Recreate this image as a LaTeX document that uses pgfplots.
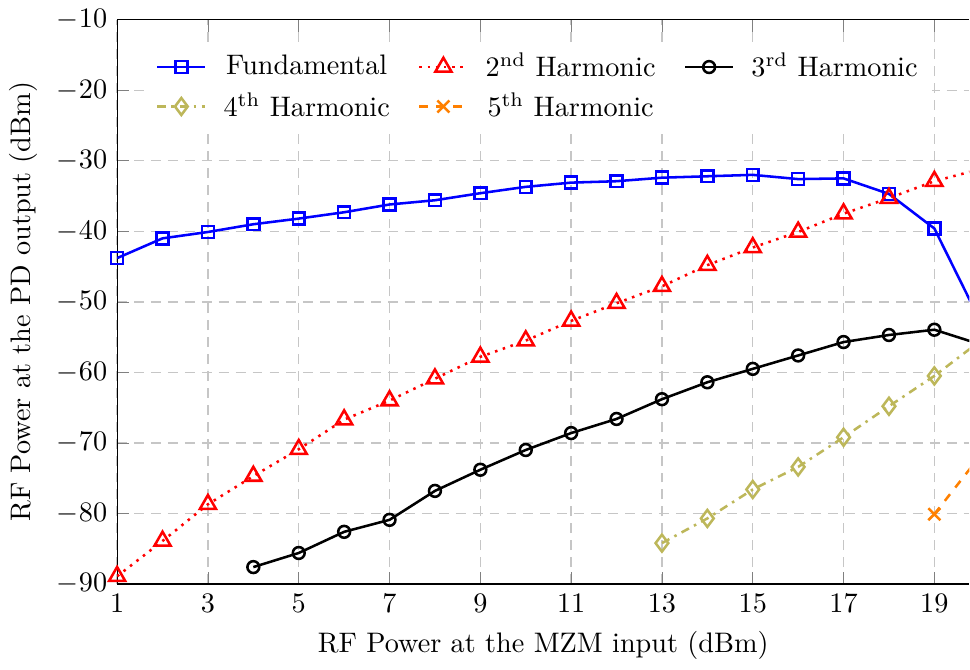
\documentclass[border=0pt]{standalone}
\usepackage{pgfplots}
\pgfplotsset{compat=1.18}
\definecolor{khaki}{RGB}{189,183,90}
\definecolor{myorange}{RGB}{255,128,0}
\begin{document}
\begin{tikzpicture}
\begin{axis}[
  scale only axis,
  width=302pt, height=200pt,
  xmin=1, xmax=19.77,
  ymin=-90, ymax=-10,
  xtick={1,3,...,19},
  ytick={-90,-80,...,-10},
  axis x line=box,
  axis y line*=left,
  grid=major,
  grid style={dash pattern=on 3.5pt off 2.5pt, gray!45, line width=0.5pt},
  major tick style={gray},
  xlabel={RF Power at the MZM input (dBm)},
  ylabel={RF Power at the PD output (dBm)},
  legend columns=3,
  legend style={draw=none, fill=white, at={(0.035,0.962)}, anchor=north west,
    /tikz/every odd column/.append style={column sep=4pt},
    /tikz/every even column/.append style={column sep=8pt},
    row sep=0pt},
  every axis plot/.append style={line width=0.9pt, mark size=2.1pt},
]
\addplot[blue, mark=square, mark options={solid, fill=white}] coordinates {
(1,-43.8) (2,-41.0) (3,-40.1) (4,-39.0) (5,-38.2) (6,-37.3) (7,-36.2) (8,-35.6)
(9,-34.6) (10,-33.7) (11,-33.1) (12,-32.9) (13,-32.4) (14,-32.2) (15,-32.0)
(16,-32.6) (17,-32.5) (18,-34.7) (19,-39.6) (20,-52.6)};
\addlegendentry{Fundamental}
\addplot[red, dotted, mark=triangle, mark size=3.3pt, mark options={solid, fill=white}] coordinates {
(1,-88.9) (2,-83.9) (3,-78.7) (4,-74.7) (5,-70.9) (6,-66.7) (7,-64.0) (8,-60.9)
(9,-57.8) (10,-55.5) (11,-52.7) (12,-50.2) (13,-47.8) (14,-44.8) (15,-42.3)
(16,-40.1) (17,-37.5) (18,-35.3) (19,-32.9) (20,-31.2)};
\addlegendentry{2\textsuperscript{nd} Harmonic}
\addplot[black, mark=o, mark options={solid, fill=white}] coordinates {
(4,-87.6) (5,-85.6) (6,-82.6) (7,-80.9) (8,-76.8) (9,-73.8) (10,-71.0)
(11,-68.6) (12,-66.6) (13,-63.8) (14,-61.4) (15,-59.5) (16,-57.6) (17,-55.7)
(18,-54.7) (19,-53.95) (20,-56.0)};
\addlegendentry{3\textsuperscript{rd} Harmonic}
\addplot[khaki, dash dot, mark=diamond, mark size=3pt, mark options={solid, fill=white}] coordinates {
(13,-84.2) (14,-80.7) (15,-76.6) (16,-73.4) (17,-69.2) (18,-64.8) (19,-60.5) (20,-55.6)};
\addlegendentry{4\textsuperscript{th} Harmonic}
\addplot[myorange, dashed, mark=x, mark size=3pt, mark options={solid}] coordinates {
(19,-80.1) (20,-71.9)};
\addlegendentry{5\textsuperscript{th} Harmonic}
\end{axis}
\end{tikzpicture}
\end{document}
